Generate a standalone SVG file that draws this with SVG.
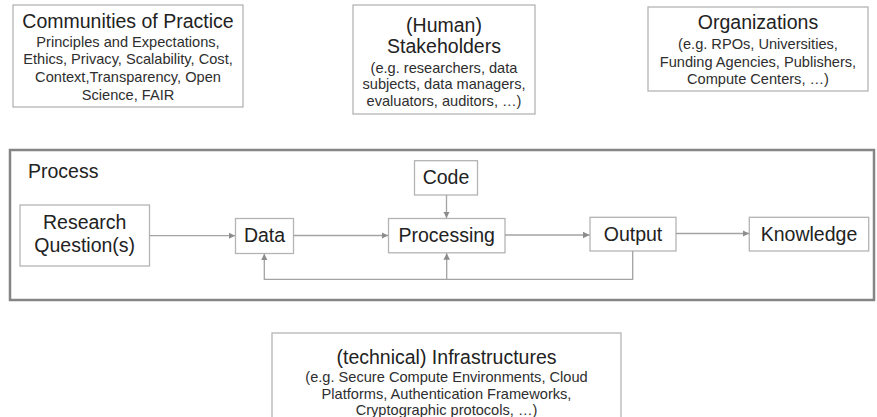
<svg xmlns="http://www.w3.org/2000/svg" width="877" height="417" viewBox="0 0 877 417">
  <style>
    .box { fill: #ffffff; stroke: #b4b4b4; stroke-width: 1.3; }
    .frame { fill: #ffffff; stroke: #858585; stroke-width: 2.5; }
    text { font-family: "Liberation Sans", Arial, sans-serif; fill: #222222; text-anchor: middle; }
    .title { font-size: 19.5px; }
    .sub { font-size: 14.6px; fill: #2e2e2e; }
    .lbl { font-size: 19.5px; }
    .conn { fill: none; stroke: #a3a3a3; stroke-width: 1.3; }
  </style>
  <defs>
    <marker id="arrow" viewBox="0 0 10 10" refX="10" refY="5" markerWidth="5" markerHeight="5" markerUnits="strokeWidth" orient="auto">
      <path d="M0,0 L10,5 L0,10 Z" fill="#8c8c8c"/>
    </marker>
  </defs>

  <rect width="877" height="417" fill="#ffffff"/>

  <!-- context boxes -->
  <g id="communities">
    <rect class="box" x="13" y="5" width="230" height="102"/>
    <text class="title" x="128" y="27.5">Communities of Practice</text>
    <text class="sub" x="128" y="46.5">Principles and Expectations,</text>
    <text class="sub" x="128" y="64.2">Ethics, Privacy, Scalability, Cost,</text>
    <text class="sub" x="128" y="82">Context,Transparency, Open</text>
    <text class="sub" x="128" y="99.6">Science, FAIR</text>
  </g>

  <g id="stakeholders">
    <rect class="box" x="353" y="5" width="182" height="109"/>
    <text class="title" x="444" y="32">(Human)</text>
    <text class="title" x="444" y="52.8">Stakeholders</text>
    <text class="sub" x="444" y="72.5">(e.g. researchers, data</text>
    <text class="sub" x="444" y="89.3">subjects, data managers,</text>
    <text class="sub" x="444" y="106">evaluators, auditors, …)</text>
  </g>

  <g id="organizations">
    <rect class="box" x="648" y="7" width="220" height="84"/>
    <text class="title" x="758" y="29.3">Organizations</text>
    <text class="sub" x="758" y="49">(e.g. RPOs, Universities,</text>
    <text class="sub" x="758" y="66.6">Funding Agencies, Publishers,</text>
    <text class="sub" x="758" y="84.2">Compute Centers, …)</text>
  </g>

  <!-- process frame -->
  <g id="process">
    <rect class="frame" x="10" y="150" width="864" height="150"/>
    <text class="lbl" x="28" y="178" style="text-anchor:start">Process</text>
  </g>

  <g id="research-question">
    <rect class="box" x="20" y="205" width="129.5" height="61"/>
    <text class="lbl" x="84.7" y="228.5">Research</text>
    <text class="lbl" x="84.7" y="251.6">Question(s)</text>
  </g>

  <g id="data">
    <rect class="box" x="235.5" y="218.5" width="58" height="35"/>
    <text class="lbl" x="264.5" y="242">Data</text>
  </g>

  <g id="code">
    <rect class="box" x="414.5" y="160.7" width="63" height="34.3"/>
    <text class="lbl" x="446" y="184">Code</text>
  </g>

  <g id="processing">
    <rect class="box" x="388.5" y="218.5" width="116.5" height="34.3"/>
    <text class="lbl" x="446.7" y="242">Processing</text>
  </g>

  <g id="output">
    <rect class="box" x="590" y="217.3" width="86" height="33.7"/>
    <text class="lbl" x="633" y="240.5">Output</text>
  </g>

  <g id="knowledge">
    <rect class="box" x="749.3" y="217.3" width="119.4" height="33.7"/>
    <text class="lbl" x="809" y="240.5">Knowledge</text>
  </g>

  <g id="infrastructures">
    <rect class="box" x="272" y="333" width="349" height="86"/>
    <text class="title" x="446.5" y="364.3">(technical) Infrastructures</text>
    <text class="sub" x="446.5" y="381.7">(e.g. Secure Compute Environments, Cloud</text>
    <text class="sub" x="446.5" y="398.6">Platforms, Authentication Frameworks,</text>
    <text class="sub" x="446.5" y="415.3">Cryptographic protocols, …)</text>
  </g>

  <!-- connectors -->
  <g id="connectors">
    <path class="conn" d="M149.5,235.7 H235" marker-end="url(#arrow)"/>
    <path class="conn" d="M293.5,235.5 H388" marker-end="url(#arrow)"/>
    <path class="conn" d="M446.5,195 V218" marker-end="url(#arrow)"/>
    <path class="conn" d="M505,235 H589.5" marker-end="url(#arrow)"/>
    <path class="conn" d="M676,233.5 H749" marker-end="url(#arrow)"/>
    <path class="conn" d="M632.7,251 V279.3 H264.3 V253.8" marker-end="url(#arrow)"/>
    <path class="conn" d="M446.7,279.3 V253.2" marker-end="url(#arrow)"/>
  </g>
</svg>
